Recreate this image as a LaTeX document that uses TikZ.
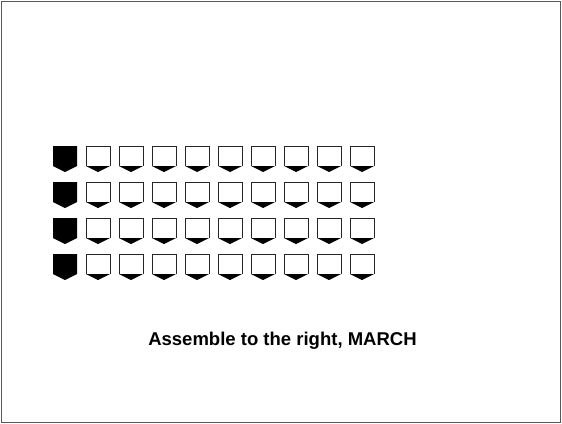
\documentclass[tikz,border=0pt]{standalone}
\usepackage{fontspec}
\setmainfont{Liberation Sans}
\begin{document}
\begin{tikzpicture}[x=0.03cm, y=-0.03cm]
  \useasboundingbox (0,0) rectangle (562,424);
  \draw[black!65, line width=1.5pt] (1.5,1.5) rectangle (560.5,422.5);
  \foreach \r in {0,1,2,3} {
    \foreach \c in {0,...,9} {
      \pgfmathsetmacro{\xa}{53+33*\c}
      \pgfmathsetmacro{\ya}{146+36*\r}
      \ifnum\c=0
        \fill[black] (\xa,\ya) -- ++(24,0) -- ++(0,20) -- ++(-12,6) -- ++(-12,-6) -- cycle;
      \else
        \fill[black] (\xa,\ya+20) -- ++(24,0) -- ++(-12,6) -- cycle;
        \draw[black!85, line width=0.7pt] (\xa,\ya+20) -- (\xa,\ya) -- ++(24,0) -- ++(0,20);
      \fi
    }
  }
  \node[font=\bfseries\fontsize{15.8}{19}\selectfont, anchor=base] (march) at (282.5,345) {Assemble to the right, MARCH};
\end{tikzpicture}
\end{document}
